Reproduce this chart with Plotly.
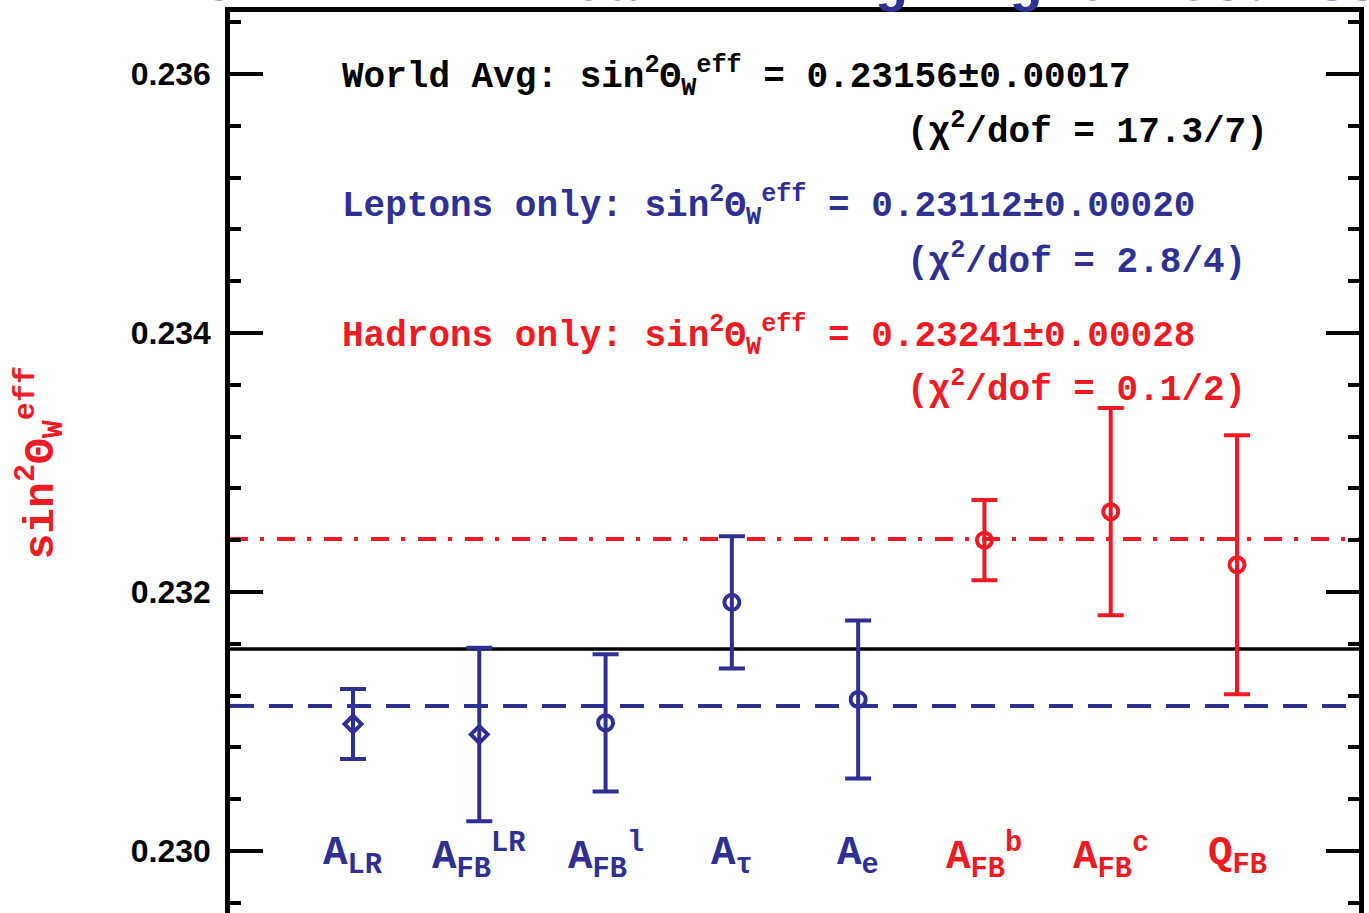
import plotly.graph_objects as go

# ---------------- data ----------------
categories = ["A<sub>LR</sub>", "A<sub>FB</sub><sup>LR</sup>", "A<sub>FB</sub><sup>l</sup>",
              "A<sub>τ</sub>", "A<sub>e</sub>", "A<sub>FB</sub><sup>b</sup>",
              "A<sub>FB</sub><sup>c</sup>", "Q<sub>FB</sub>"]
x_pos = [1, 2, 3, 4, 5, 6, 7, 8]
values = [0.23098, 0.23090, 0.23099, 0.23192, 0.23117, 0.23240, 0.23262, 0.23221]
errors = [0.00027, 0.00067, 0.00053, 0.00051, 0.00061, 0.00031, 0.00080, 0.00100]
groups = ["lep", "lep", "lep", "lep", "lep", "had", "had", "had"]
symbols = ["diamond-open", "diamond-open", "circle-open", "circle-open", "circle-open",
           "circle-open", "circle-open", "circle-open"]

world_avg = 0.23156
lepton_avg = 0.23112
hadron_avg = 0.23241

y_ticks = [0.230, 0.232, 0.234, 0.236]

BLUE = "#2E3192"
RED = "#ED1C24"
MONO = "Liberation Mono"
SANS = "Liberation Sans"

W, H = 1369, 913
ML, MR, MT, MB = 230, 10, 12, 0
PW, PH = W - ML - MR, H - MT - MB


def px_x(px):
    return (px - ML) / PW


def px_y(py):
    return 1 - (py - MT) / PH


fig = go.Figure()

# horizontal averages
fig.add_shape(type="line", xref="paper", x0=0, x1=1, yref="y", y0=world_avg, y1=world_avg,
              line=dict(color="black", width=3.5), layer="below")
fig.add_shape(type="line", xref="paper", x0=0, x1=1, yref="y", y0=lepton_avg, y1=lepton_avg,
              line=dict(color=BLUE, width=4, dash="24px,15px"), layer="below")
fig.add_shape(type="line", xref="paper", x0=0, x1=1, yref="y", y0=hadron_avg, y1=hadron_avg,
              line=dict(color=RED, width=4, dash="18px,12px,4px,13px"), layer="below")

for grp, col in (("lep", BLUE), ("had", RED)):
    idx = [i for i, g in enumerate(groups) if g == grp]
    fig.add_trace(go.Scatter(
        x=[x_pos[i] for i in idx],
        y=[values[i] for i in idx],
        mode="markers",
        marker=dict(symbol=[symbols[i] for i in idx],
                    size=[13 if symbols[i].startswith("diamond") else 15 for i in idx],
                    color=col, opacity=1, line=dict(color=col, width=4)),
        error_y=dict(type="data", array=[errors[i] for i in idx], visible=True,
                     color=col, thickness=4, width=13),
        showlegend=False, hoverinfo="skip",
    ))

annotations = []
# category labels
for xp, lab, g in zip(x_pos, categories, groups):
    annotations.append(dict(
        x=xp, y=0.22996, xref="x", yref="y", text=lab, showarrow=False,
        xanchor="center", yanchor="middle",
        font=dict(family=MONO, size=41, color=BLUE if g == "lep" else RED, weight="bold"),
    ))

sinw = "sin<sup>2</sup>Θ<sub>W</sub><sup>eff</sup>"
text_rows = [
    ("World Avg: " + sinw + " = 0.23156±0.00017", 340, 77, "black"),
    ("(χ<sup>2</sup>/dof = 17.3/7)", 905, 130, "black"),
    ("Leptons only: " + sinw + " = 0.23112±0.00020", 340, 206, BLUE),
    ("(χ<sup>2</sup>/dof = 2.8/4)", 905, 259, BLUE),
    ("Hadrons only: " + sinw + " = 0.23241±0.00028", 340, 336, RED),
    ("(χ<sup>2</sup>/dof = 0.1/2)", 905, 388, RED),
]
for txt, px, py, col in text_rows:
    annotations.append(dict(
        x=px_x(px), y=px_y(py), xref="paper", yref="paper", text=txt, showarrow=False,
        xanchor="left", yanchor="middle",
        font=dict(family=MONO, size=36, color=col, weight="bold"),
    ))

# y-axis title (rotated)
annotations.append(dict(
    x=px_x(40), y=0.5, xref="paper", yref="paper", text=sinw, showarrow=False,
    textangle=-90, xanchor="center", yanchor="middle",
    font=dict(family=MONO, size=43, color=RED, weight="bold"),
))

# clipped title at top
annotations.append(dict(
    x=px_x(790), y=px_y(-15), xref="paper", yref="paper",
    text="SLD - LEP Weak Mixing Angle Results", showarrow=False,
    xanchor="center", yanchor="middle",
    font=dict(family=MONO, size=56, color=BLUE, weight="bold"),
))

fig.update_layout(
    width=W, height=H,
    margin=dict(l=ML, r=MR, t=MT, b=MB, pad=0),
    paper_bgcolor="white", plot_bgcolor="white",
    annotations=annotations,
    xaxis=dict(range=[0.026, 8.966], side="top", showline=True, linecolor="black",
               linewidth=4.5, ticks="", showticklabels=False, showgrid=False,
               zeroline=False, fixedrange=True),
    yaxis=dict(range=[0.229521, 0.236479], showline=True, linecolor="black", linewidth=4.5,
               mirror="allticks", ticks="inside", ticklen=33, tickwidth=4, tickcolor="black",
               tickvals=y_ticks, ticktext=[f"{v:.3f}" for v in y_ticks],
               tickfont=dict(family=SANS, size=32, color="black", weight="bold"),
               ticklabelstandoff=8,
               minor=dict(dtick=0.0004, tick0=0.230, ticks="inside", ticklen=11,
                          tickwidth=4, tickcolor="black", showgrid=False),
               showgrid=False, zeroline=False, fixedrange=True),
)

fig.write_html("out.html")
